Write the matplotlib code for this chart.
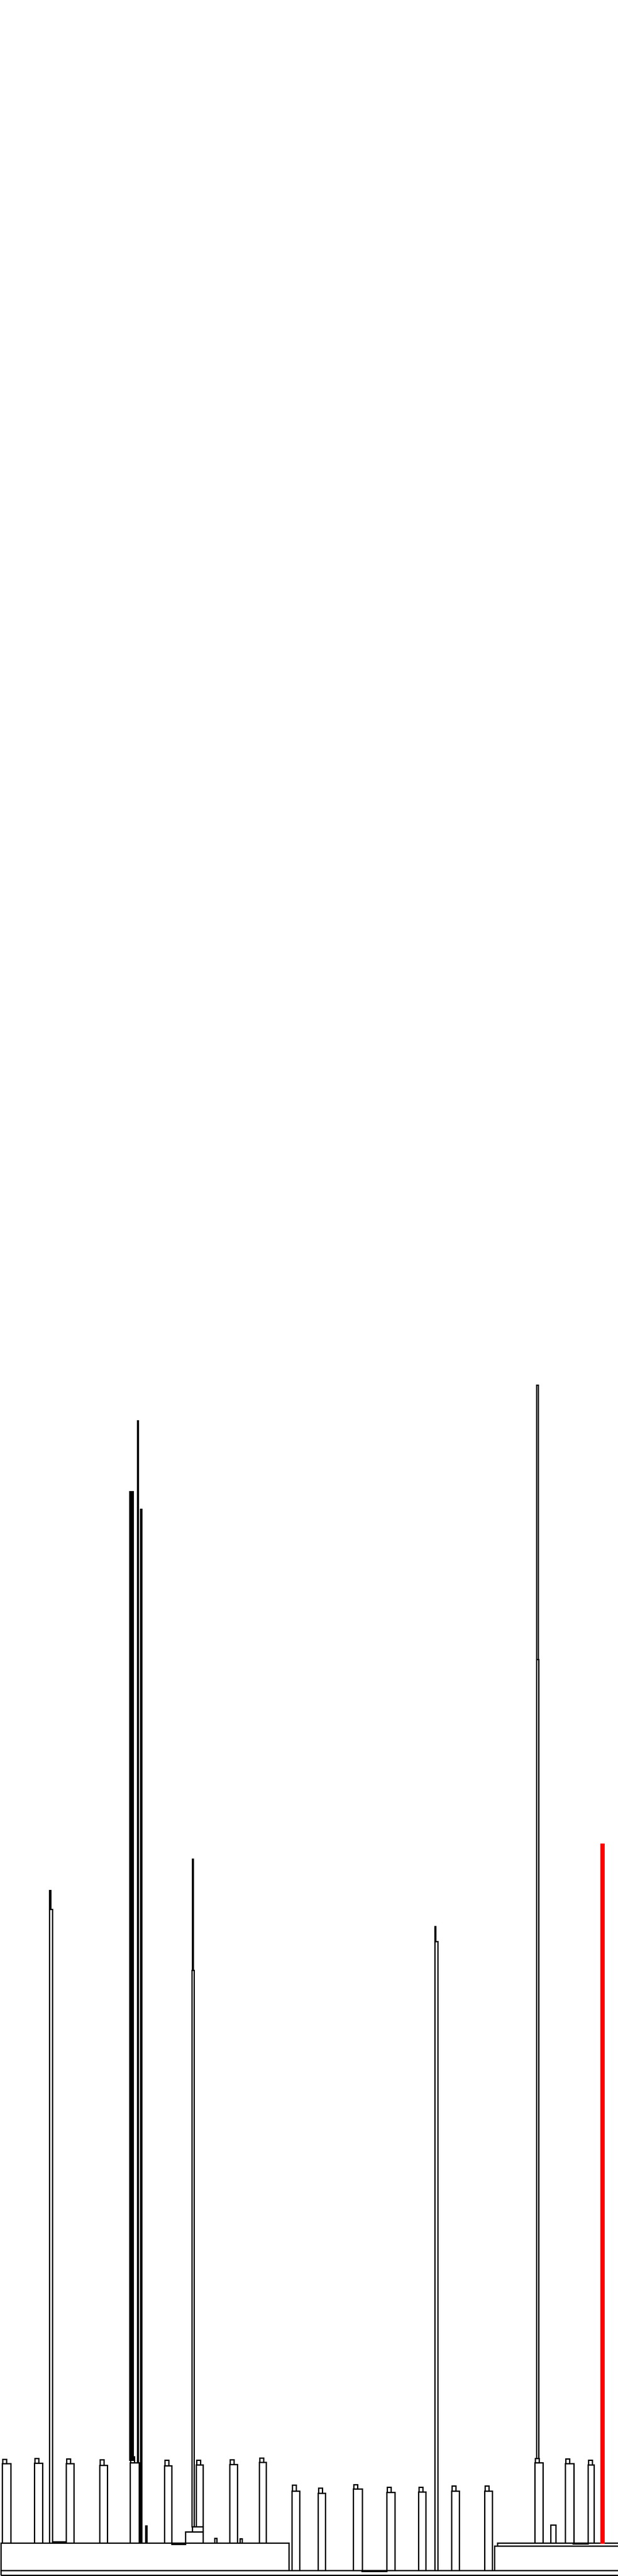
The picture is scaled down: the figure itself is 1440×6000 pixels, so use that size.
"""Outline block chart: narrow stacked blocks on two base rows."""

import matplotlib
matplotlib.use('Agg')
import matplotlib.pyplot as plt

# ── data (heights are measured up from the floor) ───────────────────────────

# base rows: root row, left block, right block, thin strip on the right block
row_left  = [2, 2, 1151.6, 1158.5]
row_right = [1445, 672.6, 1445, 1445]
row_lo    = [2, 13, 13, 70]
row_hi    = [13, 77, 70, 77]

# chimneys standing on the left block / the root row / the right strip
chim_left  = [4.6, 80.3, 153.8, 231.9, 303.0, 382.5, 456.8, 534.9, 603.8,
              679.5, 740.7, 823.0, 901.0, 975.0, 1051.5, 1128.6,
              1245.7, 1317.0, 1369.7]
chim_width = [20.7, 18.4, 18.4, 18.3, 20.7, 17.0, 16.2, 18.4, 16.0,
              18.5, 17.5, 21.0, 19.0, 17.0, 18.5, 18.4,
              19.7, 19.6, 14.7]
chim_base  = [77, 77, 77, 77, 77, 77, 115, 77, 77,
              13, 13, 13, 13, 13, 13, 13,
              77, 77, 77]
chim_top   = [262, 263, 262, 258, 264, 257, 259, 260, 265,
              198, 193, 203, 195, 196, 198, 198,
              264, 262, 259]
cap_top    = [272, 274, 273, 271, 278, 270, 270, 271, 275,
              212, 205, 213, 207, 207, 210, 210,
              274, 273, 270]

# tall spikes
spike_left  = [115, 115, 302, 319.5, 326.5, 448, 446.5, 1013, 1013, 1250, 1249.5]
spike_width = [3, 7, 8, 2, 3.5, 2, 5, 2, 6.5, 4, 5.5]
spike_lo    = [1553, 77, 270, 264, 77, 1411, 115, 1478, 13, 2135, 274]
spike_hi    = [1597, 1553, 2526, 2691, 2485, 1670, 1411, 1513, 1478, 2774, 2135]

# highlighted spike
hot_left, hot_width, hot_lo, hot_hi = [1399.5], [7], [77], [1705]

# small blocks and flat strips
bit_left  = [431.6, 447.6, 1282.5, 339, 499.5, 559, 122, 399.5, 843, 1335]
bit_width = [41.4, 25.4, 12.5, 3, 5, 5, 31, 32, 58, 35]
bit_lo    = [77, 103, 77, 77, 77, 77, 77, 74, 11, 75]
bit_hi    = [103, 115, 119, 117, 88, 87, 80, 77, 13, 77]

# ── plot ────────────────────────────────────────────────────────────────────

fig = plt.figure(figsize=(14.4, 60), dpi=100)
ax = fig.add_axes([0, 0, 1, 1])

def boxes(left, width, lo, hi, color='black', fill=False, lw=2.2):
    ax.bar(left, [h - l for l, h in zip(lo, hi)], width=width, bottom=lo,
           align='edge', fill=fill, facecolor=color if fill else 'none',
           edgecolor=color, linewidth=lw)

boxes([l for l in row_left], [r - l for l, r in zip(row_left, row_right)], row_lo, row_hi)
boxes(chim_left, chim_width, chim_base, chim_top)
boxes([l + 1 for l in chim_left], [9] * len(chim_left), chim_top, cap_top)
boxes(spike_left, spike_width, spike_lo, spike_hi)
boxes(spike_left[2:3], spike_width[2:3], spike_lo[2:3], spike_hi[2:3], fill=True)
boxes(bit_left, bit_width, bit_lo, bit_hi)
boxes(hot_left, hot_width, hot_lo, hot_hi, color='#ff0000', fill=True)

ax.set_xlim(0, 1440)
ax.set_ylim(0, 6000)
ax.axis('off')

plt.savefig('out.png', dpi=100, facecolor='white')
